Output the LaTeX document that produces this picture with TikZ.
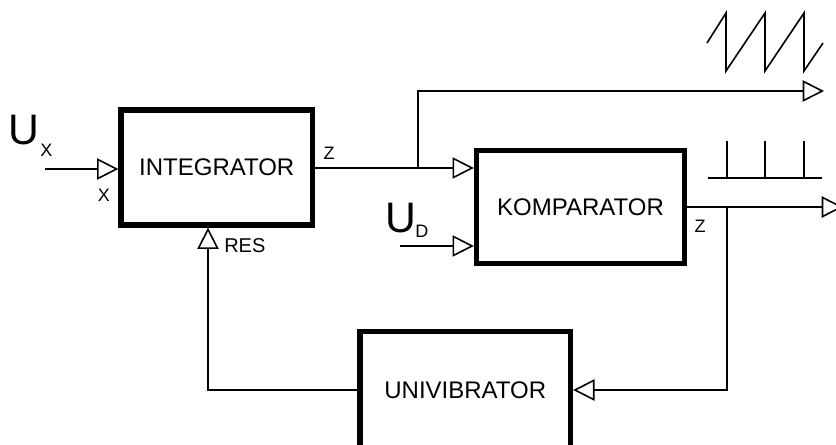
\documentclass[tikz,border=0pt]{standalone}
\usepackage{fontspec}
\setmainfont{Liberation Sans}
\usetikzlibrary{arrows.meta}
\begin{document}
\begin{tikzpicture}[x=0.75pt,y=-0.75pt,
  thin line/.style={line width=1.2pt},
  blockbox/.style={draw,line width=4pt,rectangle,inner sep=0pt,font=\fontsize{18}{20}\selectfont},
  arr/.style={thin line,-{Triangle[open,length=16pt,width=16pt]}},
  lbl/.style={inner sep=0pt,font=\fontsize{13.5}{15}\selectfont},
  biglbl/.style={inner sep=0pt,font=\fontsize{32}{36}\selectfont}]
\useasboundingbox (0,0) rectangle (836,445);
\clip (0,0) rectangle (836,445);
% blocks
\node[blockbox,minimum width=191.5*0.75pt,minimum height=115*0.75pt] (int) at (216.75,167.5) {INTEGRATOR};
\node[blockbox,minimum width=208*0.75pt,minimum height=113*0.75pt] (kom) at (580.5,207) {KOMPARATOR};
\node[blockbox,minimum width=210.5*0.75pt,minimum height=117*0.75pt] (uni) at (465.25,390) {UNIVIBRATOR};
% coordinates
\coordinate (uxin) at (45,169);
\coordinate (br1) at (418,168);
\coordinate (sawout) at (824,91);
\coordinate (udin) at (400,246);
\coordinate (br2) at (727,207);
\coordinate (pulseout) at (843,207);
\coordinate (fbr) at (727,390);
\coordinate (fbl) at (208,390);
% connectors
\draw[arr] (uxin) -- (int.west |- uxin);
\draw[thin line] (int.east |- br1) -- (br1);
\draw[arr] (br1) -- (kom.west |- br1);
\draw[arr] (br1) |- (sawout);
\draw[arr] (udin) -- (kom.west |- udin);
\draw[arr] (kom.east |- br2) -- (pulseout);
\draw[arr] (br2) -- (fbr) -- (uni.east |- fbr);
\draw[arr] (uni.west |- fbl) -- (fbl) -- (int.south -| fbl);
% waveforms
\draw[thin line,line join=miter] (707,43) -- (726,13) -- (726,71) -- (765,13) -- (765,71) -- (804,13) -- (804,71) -- (823,43);
\draw[thin line] (708,178) -- (822,178);
\foreach \xx in {727,765,804} \draw[thin line] (\xx,178) -- (\xx,141);
% labels
\node[biglbl,anchor=base west] (ulx) at (8,145) {U};
\node[lbl,anchor=base west] (ulxs) at (40,157) {X};
\node[lbl] (xl) at (104,195) {X};
\node[lbl] (zl1) at (329,153) {Z};
\node[biglbl,anchor=base west] (uld) at (385,233) {U};
\node[lbl,anchor=base west] (ulds) at (415,238) {D};
\node[inner sep=0pt,font=\fontsize{15}{17}\selectfont,anchor=base west] (res) at (224,253) {RES};
\node[lbl] (zl2) at (700,226) {Z};
\end{tikzpicture}
\end{document}
